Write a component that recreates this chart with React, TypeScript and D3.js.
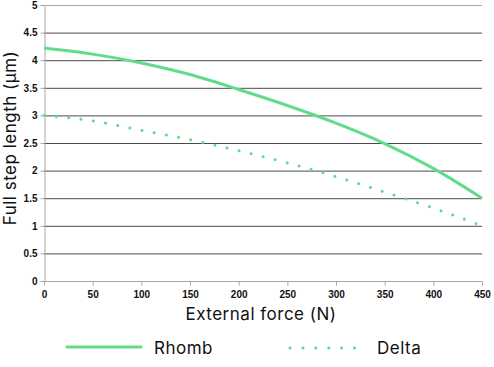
import { useEffect, useRef } from "react";
import * as d3 from "d3";

const forces = [0, 50, 100, 150, 200, 250, 300, 350, 400, 450];
const rhomb = [4.22, 4.11, 3.95, 3.74, 3.47, 3.18, 2.86, 2.49, 2.04, 1.5];
const delta = [3.0, 2.9, 2.73, 2.56, 2.36, 2.14, 1.89, 1.61, 1.32, 1.0];
const yTicks = [0, 0.5, 1, 1.5, 2, 2.5, 3, 3.5, 4, 4.5, 5];
const xTicks = [0, 50, 100, 150, 200, 250, 300, 350, 400, 450];

const green = "#62dc8c";

export default function App() {
  const svgRef = useRef<SVGSVGElement>(null);

  useEffect(() => {
    if (!svgRef.current) return;
    const svg = d3.select(svgRef.current);
    svg.selectAll("*").remove();

    const left = 44, right = 482, top = 5, bottom = 281;
    const x = d3.scaleLinear().domain([0, 450]).range([left, right]);
    const y = d3.scaleLinear().domain([0, 5]).range([bottom, top]);

    // grid
    svg.append("g")
      .selectAll("line")
      .data(yTicks)
      .enter()
      .append("line")
      .attr("x1", left)
      .attr("x2", right)
      .attr("y1", d => y(d) + 0.5)
      .attr("y2", d => y(d) + 0.5)
      .attr("stroke", d => (d === 0 || d === 5 ? "#a8a8a8" : "#4a4a4a"))
      .attr("stroke-width", 1);

    const gy = svg.append("g")
      .attr("transform", `translate(${left + 0.5},0)`)
      .call(d3.axisLeft(y).tickValues(yTicks).tickSize(4).tickFormat(d => String(d)));
    gy.selectAll("path, line").attr("stroke", "#a8a8a8");
    gy.selectAll("text")
      .attr("fill", "#111")
      .attr("font-size", 10)
      .attr("font-family", "Liberation Sans, Arial, sans-serif")
      .attr("font-weight", 600);

    const gx = svg.append("g")
      .attr("transform", `translate(0,${bottom + 0.5})`)
      .call(d3.axisBottom(x).tickValues(xTicks).tickSize(4).tickSizeOuter(0).tickFormat(d => String(d)));
    gx.select("path").remove();
    gx.selectAll("line").attr("stroke", "#a8a8a8");
    gx.selectAll("text")
      .attr("fill", "#111")
      .attr("font-size", 10)
      .attr("font-family", "Liberation Sans, Arial, sans-serif")
      .attr("font-weight", 600)
      .attr("dy", "0.9em");

    const line = d3.line<number>()
      .x((_, i) => x(forces[i]))
      .y(d => y(d))
      .curve(d3.curveMonotoneX);

    svg.append("path")
      .attr("d", line(rhomb))
      .attr("fill", "none")
      .attr("stroke", green)
      .attr("stroke-width", 3);

    svg.append("path")
      .attr("d", line(delta))
      .attr("fill", "none")
      .attr("stroke", green)
      .attr("stroke-width", 3)
      .attr("stroke-linecap", "round")
      .attr("stroke-dasharray", "0.1 12.3");

    const titleFont = (sel: any) =>
      sel
        .attr("font-size", 17)
        .attr("letter-spacing", 0.5)
        .attr("font-family", "Inter, sans-serif")
        .attr("fill", "#111");

    // axis titles
    svg.append("text")
      .attr("x", 261)
      .attr("y", 320)
      .attr("text-anchor", "middle")
      .call(titleFont)
      .text("External force (N)");

    svg.append("text")
      .attr("transform", `translate(16,138) rotate(-90)`)
      .attr("text-anchor", "middle")
      .call(titleFont)
      .text("Full step length (μm)");

    // legend
    svg.append("line")
      .attr("x1", 67).attr("x2", 141)
      .attr("y1", 347).attr("y2", 347)
      .attr("stroke", green)
      .attr("stroke-width", 3)
      .attr("stroke-linecap", "round");
    svg.append("text")
      .attr("x", 154).attr("y", 354)
      .call(titleFont)
      .text("Rhomb");

    svg.append("line")
      .attr("x1", 290).attr("x2", 355)
      .attr("y1", 348).attr("y2", 348)
      .attr("stroke", green)
      .attr("stroke-width", 3)
      .attr("stroke-linecap", "round")
      .attr("stroke-dasharray", "0.1 12.8");
    svg.append("text")
      .attr("x", 377).attr("y", 354)
      .call(titleFont)
      .text("Delta");
  }, []);

  return (
    <div>
      <svg
        ref={svgRef}
        width={494}
        height={367}
        style={{ position: "absolute", left: 0, top: 0, background: "#fff" }}
      ></svg>
    </div>
  );
}
